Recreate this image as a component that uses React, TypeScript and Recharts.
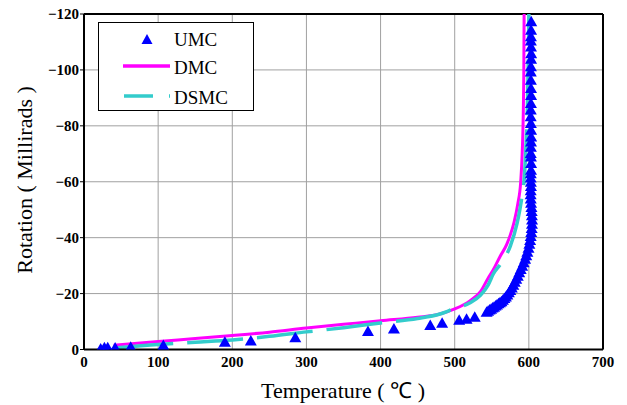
import {
  ComposedChart,
  Line,
  Scatter,
  XAxis,
  YAxis,
  CartesianGrid,
  ReferenceLine,
  Legend,
} from "recharts";

// temperature (°C) / rotation (millirads)
const tempTicks = [0, 100, 200, 300, 400, 500, 600, 700];
const rotTicks = [0, -20, -40, -60, -80, -100, -120];

const umcTemp = [
  22.5, 27.5, 32, 42, 63, 107, 190, 225, 285, 383, 418, 467, 483, 506, 516, 527,
  543, 545, 547, 549, 551, 553, 555, 557, 559, 561, 563, 565, 567, 569, 571, 573,
  575, 577, 579, 581, 583, 585, 587, 589, 591, 593, 595, 596.5, 598, 599.5, 600.7,
  601.7, 602.5, 603.2, 603.8, 604.2, 604.3, 604.1, 603.8, 603.5, 603, 602.6, 602.4,
  602.5, 602.8, 602.7, 602.5, 602.6, 602.9, 603, 602.8, 602.6, 602.7, 602.9, 603.1,
  603, 602.7, 602.5, 602.6, 602.8, 603, 602.9, 602.7, 602.6, 602.8, 603, 603.1,
  602.9, 602.7, 602.8, 603, 603.2,
];
const umcRot = [
  -0.4, -0.8, -0.8, -0.7, -1.0, -1.6, -2.8, -3.2, -4.4, -6.6, -7.5, -8.8, -9.6, -10.6, -11.0, -11.7,
  -13.5, -13.9, -14.3, -14.6, -15.0, -15.3, -15.7, -16.1, -16.5, -16.9, -17.3, -17.8, -18.4, -19.0, -19.7, -20.5,
  -21.3, -22.2, -23.2, -24.2, -25.3, -26.4, -27.6, -28.8, -30.0, -31.2, -32.5, -33.7, -35.0, -36.4, -37.8,
  -39.2, -40.6, -42.0, -43.5, -45.0, -46.5, -48.0, -49.5, -51.0, -52.5, -54.0, -55.5,
  -57.0, -58.5, -60.0, -61.5, -63.0, -64.3, -66.7, -69.0, -70.3, -72.5, -74.4, -76.2,
  -78.6, -81.0, -83.4, -85.8, -88.2, -91.0, -93.5, -96.5, -99.4, -101.3, -104, -106,
  -108.4, -110.5, -112, -114.4, -117.4,
];

const dmcTemp = [40, 100, 150, 200, 250, 300, 350, 400, 450, 480, 500, 520, 535, 545, 552, 561, 570, 575, 580, 585, 589, 591, 592.5, 593.2, 593.6];
const dmcRot = [-1.5, -2.9, -3.9, -5.0, -6.2, -7.7, -9.0, -10.3, -11.5, -12.7, -14.5, -17.3, -20.8, -25.5, -28.5, -33.2, -37.5, -41, -45.5, -52, -60, -70, -85, -100, -120];

const dsmcTemp = [45, 100, 150, 200, 250, 300, 350, 400, 450, 480, 500, 520, 535, 545, 552, 563, 575, 584, 590, 594, 596, 598, 599, 600];
const dsmcRot = [-0.6, -1.8, -2.6, -3.4, -4.7, -6.3, -7.8, -9.5, -11.1, -12.7, -14.7, -16.6, -19.5, -23, -27, -31, -37, -45, -53.5, -62, -72, -86, -100, -120];

const toRows = (xs: number[], ys: number[]) => xs.map((x, i) => ({ x, y: ys[i] }));
const umc = toRows(umcTemp, umcRot);
const dmc = toRows(dmcTemp, dmcRot);
const dsmc = toRows(dsmcTemp, dsmcRot);

const FONT = "'Liberation Serif', 'Times New Roman', serif";
const BLUE = "#0000ff";
const MAGENTA = "#ff00ff";
const CYAN = "#33cccc";

function Triangle(props: { cx?: number; cy?: number }) {
  const { cx = 0, cy = 0 } = props;
  return (
    <polygon
      points={`${cx},${cy - 5.5} ${cx + 6},${cy + 5} ${cx - 6},${cy + 5}`}
      fill={BLUE}
    />
  );
}

function LegendBox() {
  const txt = { fontFamily: FONT, fontSize: 19, fill: "#000" };
  return (
    <svg width={156} height={89} style={{ display: "block" }}>
      <rect x={0.5} y={0.5} width={155} height={88} fill="#fff" stroke="#000" strokeWidth={1} />
      <polygon points="49,12 54.5,22 43.5,22" fill={BLUE} />
      <line x1={25} x2={72} y1={44} y2={44} stroke={MAGENTA} strokeWidth={3.5} />
      <line x1={26} x2={72} y1={74} y2={74} stroke={CYAN} strokeWidth={3.5} strokeDasharray="29 16" />
      <text x={76} y={23.5} {...txt}>UMC</text>
      <text x={76} y={52} {...txt}>DMC</text>
      <text x={76} y={81.5} {...txt}>DSMC</text>
    </svg>
  );
}

const fmtRot = (v: number) => (v < 0 ? `\u2212${-v}` : `${v}`);

function XTick({ x, y, payload }: { x?: number; y?: number; payload?: { value: number } }) {
  return (
    <text x={x} y={(y ?? 0) + 11} textAnchor="middle" fontFamily={FONT} fontSize={15} fontWeight="bold" fill="#000">
      {payload?.value}
    </text>
  );
}

function YTick({ x, y, payload }: { x?: number; y?: number; payload?: { value: number } }) {
  return (
    <text x={x} y={(y ?? 0) + 5} textAnchor="end" fontFamily={FONT} fontSize={15} fontWeight="bold" fill="#000">
      {fmtRot(payload?.value ?? 0)}
    </text>
  );
}

export default function App() {
  return (
    <div style={{ position: "absolute", left: 0, top: 0, background: "#fff", fontFamily: FONT }}>
      <ComposedChart width={627} height={405} margin={{ top: 14, right: 24, bottom: 0, left: 0 }}>
        <CartesianGrid stroke="#a0a0a0" strokeWidth={1} />
        <XAxis
          type="number"
          dataKey="x"
          domain={[0, 700]}
          ticks={tempTicks}
          interval={0}
          allowDataOverflow
          height={55.5}
          tickLine={false}
          tickSize={0}
          tickMargin={6}
          tick={<XTick />}
          axisLine={{ stroke: "#000", strokeWidth: 2 }}
          label={{
            content: () => (
              <text x={343} y={398} textAnchor="middle" fontFamily={FONT} fontSize={22} fill="#000">
                Temperature ( ℃ )
              </text>
            ),
          }}
        />
        <YAxis
          type="number"
          dataKey="y"
          domain={[-120, 0]}
          reversed
          ticks={rotTicks}
          interval={0}
          allowDataOverflow
          width={84}
          tickSize={4}
          tickMargin={1}
          tick={<YTick />}
          tickLine={{ stroke: "#000", strokeWidth: 1 }}
          axisLine={{ stroke: "#000", strokeWidth: 2 }}
          label={{
            content: () => (
              <text
                transform="translate(31.5,180) rotate(-90)"
                textAnchor="middle"
                fontFamily={FONT}
                fontSize={22}
                fill="#000"
              >
                Rotation ( Millirads )
              </text>
            ),
          }}
        />
        <ReferenceLine y={-120} stroke="#000" strokeWidth={2} />
        <ReferenceLine x={700} stroke="#000" strokeWidth={2} />
        <Line
          data={dmc}
          dataKey="y"
          name="DMC"
          type="monotone"
          stroke={MAGENTA}
          strokeWidth={3}
          dot={false}
          isAnimationActive={false}
        />
        <Line
          data={dsmc}
          dataKey="y"
          name="DSMC"
          type="monotone"
          stroke={CYAN}
          strokeWidth={3.5}
          strokeDasharray="56 14"
          dot={false}
          isAnimationActive={false}
        />
        <Scatter data={umc} dataKey="y" name="UMC" fill={BLUE} shape={<Triangle />} isAnimationActive={false} />
        <Legend
          layout="vertical"
          align="center"
          verticalAlign="middle"
          content={() => <LegendBox />}
          wrapperStyle={{ left: 98, top: 22, width: 156, height: 89 }}
        />
      </ComposedChart>
    </div>
  );
}
